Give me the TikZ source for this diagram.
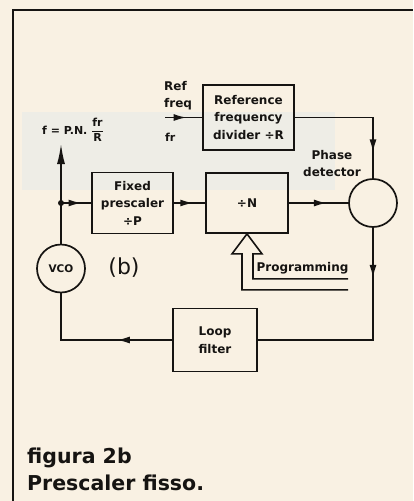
\documentclass[tikz,border=0pt]{standalone}
\usepackage{fontspec}
\setmainfont{DejaVu Sans}
\usetikzlibrary{arrows.meta,decorations.markings,calc}
\definecolor{paper}{RGB}{249,241,227}
\definecolor{band}{RGB}{230,234,234}
\definecolor{ink}{RGB}{22,20,18}
\tikzset{
  diag/.style={font=\bfseries\fontsize{12}{17.5}\selectfont, text=ink},
  blk/.style={diag, draw=ink, line width=1.7pt, align=center, inner sep=0pt},
  ring/.style={draw=ink, line width=1.7pt, circle, minimum size=48pt, inner sep=0pt},
  wire/.style={draw=ink, line width=1.6pt},
  arrowat/.style={postaction={decorate}, decoration={markings,
      mark=at position #1 with {\arrow{Latex[length=13pt,width=7pt]}}}},
  lbl/.style={diag, inner sep=0pt},
  capt/.style={font=\bfseries\fontsize{20.5}{25}\selectfont, text=ink, inner sep=0pt, anchor=west}
}
\begin{document}
\begin{tikzpicture}[x=1pt,y=-1pt]
\useasboundingbox (0,0) rectangle (413,501);
\fill[paper] (0,0) rectangle (413,501);
\fill[band, opacity=0.55] (22,112) rectangle (335,190);
% frame
\draw[ink, line width=2.2pt] (13,501) -- (13,10) -- (413,10);

% blocks
\node[blk, minimum width=91pt, minimum height=65pt] (refdiv) at (248.5,117.5) {Reference\\frequency\\divider ÷R};
\node[blk, minimum width=81pt, minimum height=61pt] (presc) at (132.5,203) {Fixed\\prescaler\\÷P};
\node[blk, minimum width=82pt, minimum height=60pt] (divn) at (247,203) {÷N};
\node[blk, minimum width=84pt, minimum height=63pt] (loop) at (215,340) {Loop\\filter};
\node[ring] (phase) at (373,203) {};
\node[ring, font=\bfseries\fontsize{10.5}{12}\selectfont, text=ink] (vco) at (61,268.5) {VCO};

% labels
\node[lbl, align=left, anchor=west, font=\bfseries\fontsize{12}{17}\selectfont] (reflbl) at (164,95.5) {Ref\\freq};
\node[lbl, anchor=west, font=\bfseries\fontsize{11}{13}\selectfont] (frlbl) at (165,137) {fr};
\node[lbl, align=center] (phlbl) at (332,163.5) {Phase\\detector};
\node[lbl] (proglbl) at (302.5,268) {Programming};
\node[inner sep=0pt, font=\fontsize{22}{24}\selectfont, text=ink] (blbl) at (124,268) {(b)};
\node[lbl, font=\bfseries\fontsize{11}{12}\selectfont] (flbl) at (73,130) {f = P.N. $\displaystyle\frac{\mbox{fr}}{\mbox{R}}$};
\node[capt] (cap1) at (27,458) {figura 2b};
\node[capt] (cap2) at (27,483) {Prescaler fisso.};

% coordinates
\coordinate (refin) at (165,117.5);
\coordinate (junction) at (61,203);
\coordinate (ftop) at (61,144);
\coordinate (c1) at (373,117.5);
\coordinate (c2) at (373,340);
\coordinate (c3) at (61,340);

% connectors
\draw[wire, arrowat=0.58] (refin) -- (refdiv.west);
\draw[wire, arrowat=0.815] (refdiv.east) -- (c1) -- (phase.north);
\draw[wire, arrowat=0.68] (junction) -- (presc.west);
\draw[wire, arrowat=0.62] (presc.east) -- (divn.west);
\draw[wire, arrowat=0.64] (divn.east) -- (phase.west);
\draw[wire, arrowat=0.22] (phase.south) -- (c2) -- (loop.east);
\draw[wire, arrowat=0.35] (loop.west) -- (c3) -- (vco.south);
\draw[wire] (vco.north) -- (junction);
\draw[wire, -{Latex[length=20pt,width=8pt]}] (junction) -- (ftop);
\fill[ink] (junction) circle (3pt);

% hollow programming arrow
\draw[wire, line join=miter]
  ($(divn.south)+(101,56)$) -- ($(divn.south)+(-5,56)$) -- ($(divn.south)+(-5,20)$)
  -- ($(divn.south)+(-15,20)$) -- (divn.south) -- ($(divn.south)+(15,20)$)
  -- ($(divn.south)+(6,20)$) -- ($(divn.south)+(6,45)$) -- ($(divn.south)+(101,45)$);
\end{tikzpicture}
\end{document}
